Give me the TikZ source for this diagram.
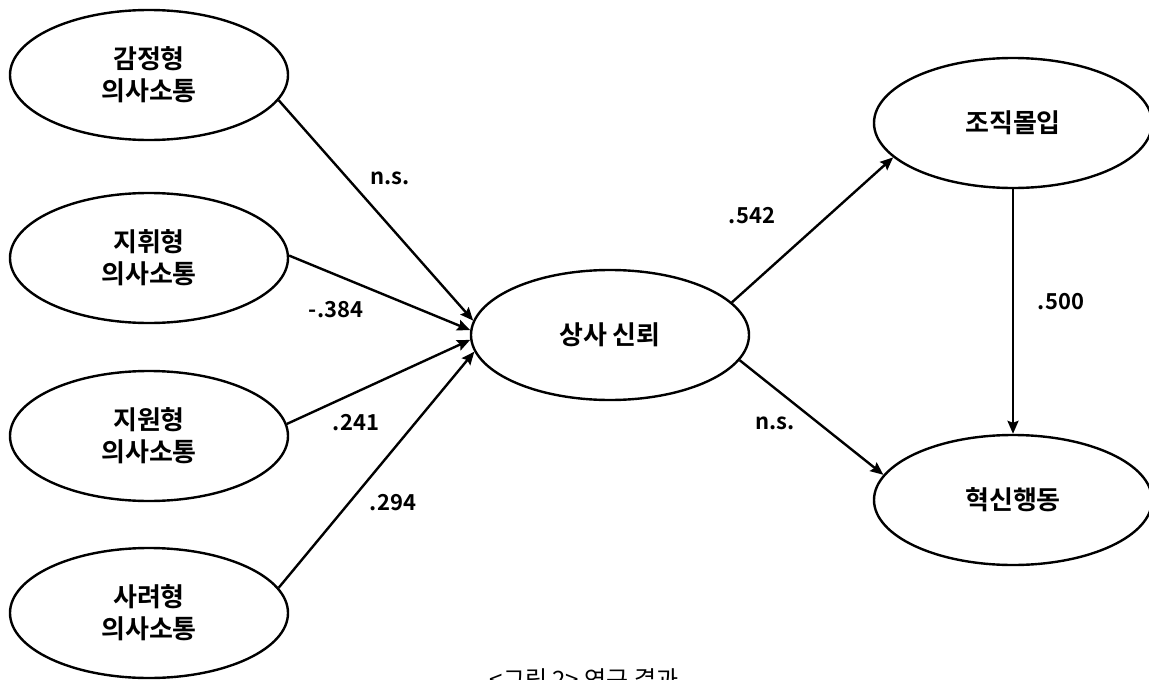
\documentclass[tikz,border=0pt]{standalone}
\usepackage{fontspec}
\setmainfont{Noto Sans CJK KR}
\newfontfamily\krbold{Noto Sans CJK KR Bold}
\usetikzlibrary{shapes.geometric,arrows.meta}
\tikzset{
  construct/.style={draw, ellipse, line width=2.4pt, minimum width=278pt,
    minimum height=130pt, inner sep=0pt, align=center,
    font=\krbold\fontsize{26}{32}\selectfont},
  path/.style={line width=2.4pt, -{Stealth[length=13pt,width=11pt,inset=2pt]}},
  coef/.style={font=\krbold\fontsize{22}{24}\selectfont, inner sep=0pt}
}
\begin{document}
\begin{tikzpicture}[x=1pt,y=-1pt]
\useasboundingbox (0,0) rectangle (1149,680);
\clip (0,0) rectangle (1149,680);
% predictors
\node[construct] (emo) at (149,75)  {감정형\\의사소통};
\node[construct] (dir) at (149,258) {지휘형\\의사소통};
\node[construct] (sup) at (149,436) {지원형\\의사소통};
\node[construct] (con) at (149,613) {사려형\\의사소통};
% mediator and outcomes
\node[construct] (trust) at (610,335) {상사 신뢰};
\node[construct] (comm)  at (1013,123) {조직몰입};
\node[construct] (innov) at (1013,500) {혁신행동};
% paths
\draw[path] (emo.-11) -- (trust.174.5);
\draw[path] (dir.1)   -- (trust.178);
\draw[path] (sup.5)   -- (trust.182);
\draw[path] (con.11.5) -- (trust.187);
\draw[path] (trust.15) -- (comm.196);
\draw[path] (trust.-11) -- (innov.169);
\draw[path] (comm.south) -- (innov.north);
% coefficients
\node[coef] (c1) at (390,178) {n.s.};
\node[coef] (c2) at (336,310) {-.384};
\node[coef] (c3) at (356,423) {.241};
\node[coef] (c4) at (393,503) {.294};
\node[coef] (c5) at (752,216) {.542};
\node[coef] (c6) at (775,423) {n.s.};
\node[coef] (c7) at (1061,302) {.500};
% caption
\node[font=\fontsize{24}{28}\selectfont, anchor=north, inner sep=0pt] (cap) at (584,668) {<그림 2> 연구 결과};
\end{tikzpicture}
\end{document}
